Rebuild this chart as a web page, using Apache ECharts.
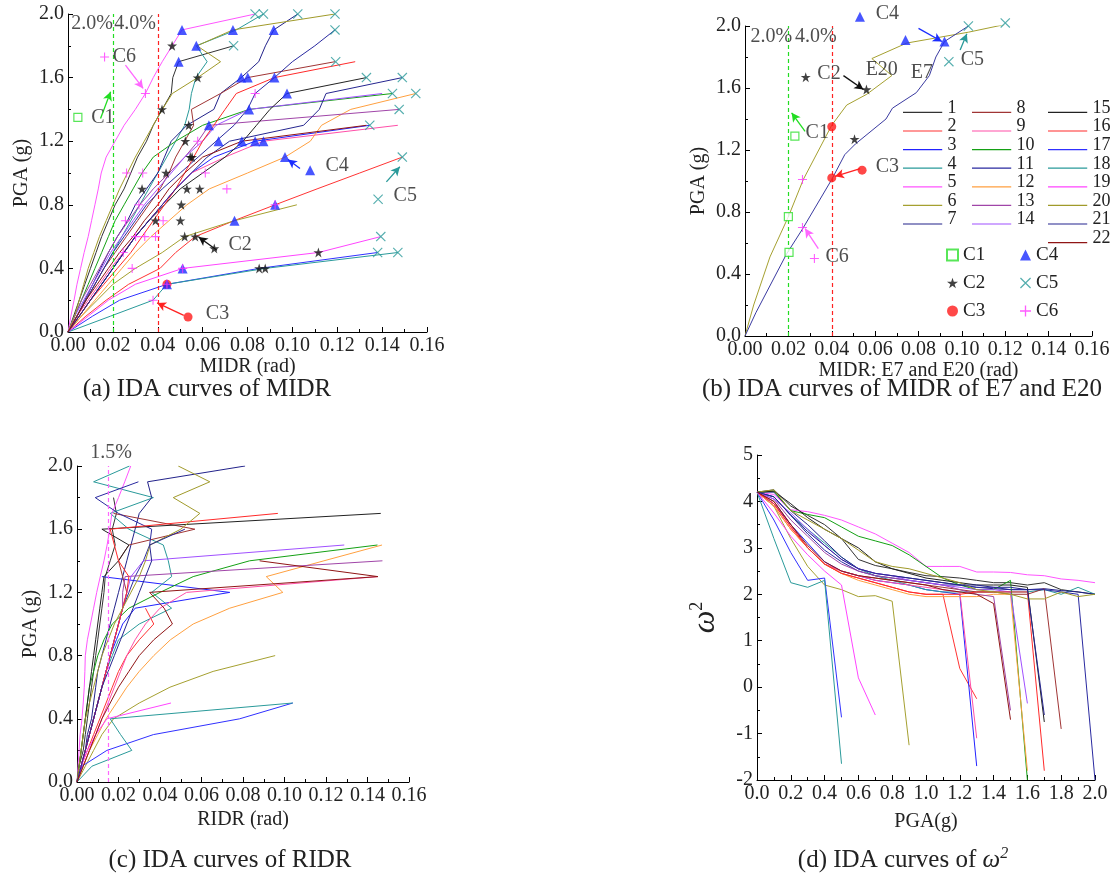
<!DOCTYPE html>
<html>
<head>
<meta charset="utf-8">
<script src="https://cdn.jsdelivr.net/npm/echarts@6/dist/echarts.min.js"></script>
<style>
  html, body { margin: 0; background: #fff; }
  #chart { width: 1120px; height: 881px; }
</style>
</head>
<body>
<div id="chart"></div>
<script>
// ---- data ----
// ground motion numbers 1..22
const names = ['1','2','3','4','5','6','7','8','9','10','11','12','13','14','15','16','17','18','19','20','21','22'];
const colors = ['#333333','#ff3333','#2222ff','#2a9a9a','#ff55ff','#a5a030','#22228a','#a03535','#ff4fa8','#14a014','#2a2aa0',
                '#ffa040','#a045a8','#a050ff','#222222','#ff2a2a','#3030ff','#2a9a9a','#ff44ff','#a09a2a','#25258f','#901515'];

// MIDR (rad) at PGA = 0, 0.1, 0.2 ... g
const midr = [
  [0,.0025,.005,.0075,.01,.0125,.015,.018,.021,.025,.028,.031,.035,.038,.042,.046,.0467,.0493,.0738],
  [0,.008,.017,.027,.041,.048,.0567,.074,.0923,.111,.13,.149],
  [0,.005,.01,.015,.02,.025,.03,.036,.042,.048,.055,.065,.0834,.1345],
  [0,.004,.008,.012,.016,.02,.024,.028,.032,.036,.04,.044,.048,.052,.054,.055,.057,.062,.0572,.075,.0871],
  [0,.0013,.0027,.004,.0056,.0072,.009,.0105,.012,.0135,.0148,.017,.021,.025,.03,.0345,.038,.042,.0464,.0508,.0834],
  [0,.006,.013,.02,.03,.042,.052,.0742,.102],
  [0,.004,.0075,.011,.0145,.018,.022,.0265,.03,.035,.04,.043,.046,.053,.065,.068,.0772,.085,.088,.0917,.1024],
  [0,.004,.008,.012,.016,.021,.026,.031,.036,.041,.045,.048,.052,.056,.055,.068,.08,.119],
  [0,.004,.009,.014,.019,.0246,.03,.036,.042,.048,.055,.07,.0871,.147],
  [0,.003,.006,.009,.012,.015,.018,.021,.025,.029,.033,.038,.048,.06,.0807,.1446],
  [0,.004,.008,.012,.016,.02,.025,.03,.035,.042,.05,.058,.066,.074,.08,.0834,.092,.1,.11,.119],
  [0,.006,.012,.018,.024,.03,.037,.045,.053,.063,.08,.0967,.108,.113,.126,.155],
  [0,.003,.006,.01,.014,.018,.022,.027,.032,.038,.045,.052,.058,.0628,.1476],
  [0,.003,.007,.011,.015,.019,.024,.029,.034,.04,.046,.052,.06,.066,.0807,.14],
  [0,.005,.01,.015,.02,.025,.03,.036,.043,.05,.06,.07,.078,.084,.09,.0976,.133],
  [0,.005,.01,.016,.022,.028,.033,.038,.043,.048,.052,.056,.06,.065,.07,.075,.092,.128],
  [0,.011,.023,.0441,.0852,.138],
  [0,.019,.0379,.0441,.0879,.147],
  [0,.009,.018,.03,.0511,.1116,.1394],
  [0,.003,.005,.007,.009,.0115,.014,.017,.02,.023,.0265,.03,.034,.038,.042,.0465,.0578,.068,.0575,.0735,.119],
  [0,.005,.01,.015,.02,.025,.03,.036,.042,.048,.055,.062,.072,.105,.112,.115,.149],
  [0,.004,.008,.013,.018,.023,.029,.034,.04,.045,.052,.06,.0775,.133]
];

// RIDR (rad) at PGA = 0, 0.1, 0.2 ... g
const ridr = [
  [0,.001,.003,.004,.005,.006,.007,.008,.009,.01,.011,.012,.013,.0136,.016,.0184,.017,.019,.0176],
  [0,.002,.005,.008,.011,.014,.017,.02,.024,.03,.037,.033],
  [0,.002,.004,.006,.008,.01,.012,.014,.016,.019,.022,.028,.0736,.012],
  [0,.002,.004,.006,.008,.01,.012,.014,.017,.02,.03,.0456,.036,.0456,.044,.0416,.025,.016,.0368,.008,.0253],
  [0,.0005,.001,.0015,.0024,.003,.0035,.0038,.004,.005,.0065,.008,.0095,.0112,.013,.0145,.0158,.0168,.02,.023,.0259],
  [0,.004,.008,.012,.0176,.03,.0448,.0656,.0955],
  [0,.002,.004,.005,.007,.008,.009,.01,.012,.014,.016,.018,.02,.022,.024,.026,.028,.03,.036,.034,.081],
  [0,.002,.004,.006,.008,.01,.012,.014,.016,.018,.02,.022,.024,.022,.02,.025,.0568,.0176],
  [0,.003,.006,.009,.012,.015,.018,.021,.024,.028,.033,.04,.0528,.145],
  [0,.001,.002,.003,.004,.005,.006,.008,.01,.013,.017,.025,.04,.056,.0832,.1448],
  [0,.002,.004,.006,.008,.01,.012,.014,.016,.018,.02,.022,.025,.028,.032,.035,.036,.02,.0088,.0296],
  [0,.003,.006,.01,.014,.019,.024,.03,.037,.045,.056,.0736,.0992,.0912,.119,.147],
  [0,.002,.004,.006,.008,.01,.012,.014,.016,.018,.02,.022,.022,.0232,.1472],
  [0,.002,.004,.006,.008,.01,.012,.014,.016,.018,.02,.022,.024,.026,.032,.1288],
  [0,.001,.002,.003,.004,.005,.006,.007,.008,.009,.01,.011,.012,.013,.02,.025,.012,.1464],
  [0,.002,.004,.006,.008,.01,.012,.014,.016,.018,.02,.022,.024,.025,.02,.018,.016,.0968],
  [0,.0024,.0144,.0368,.0784,.104],
  [0,.0072,.0264,.021,.016,.104],
  [0,.002,.005,.009,.0144,.0453],
  [0,.001,.002,.003,.004,.006,.008,.01,.012,.015,.018,.022,.026,.03,.033,.0352,.05,.0592,.0464,.064,.0488],
  [0,.002,.004,.006,.008,.01,.012,.015,.018,.021,.024,.027,.03,.033,.036,.035,.052],
  [0,.003,.006,.009,.012,.016,.02,.025,.03,.037,.046,.042,.035,.145,.088]
];

// omega^2 at PGA = 0, 0.1, 0.2 ... g
const omega2 = [
  [4.2,4.25,3.9,3.7,3.5,3.2,2.75,2.62,2.55,2.47,2.4,2.38,2.35,2.3,2.25,2.25,2.2,2.25,2.1,2.05,2.0],
  [4.2,3.9,3.4,3.0,2.65,2.45,2.35,2.25,2.15,2.05,2.0,2.0,0.4,-0.25],
  [4.2,3.95,3.5,3.1,2.7,2.5,2.4,2.3,2.25,2.2,2.1,2.05,2.0,-1.7],
  [4.2,4.1,3.7,3.4,3.1,2.8,2.55,2.4,2.3,2.2,2.1,2.05,2.05,2.05,2.05,2.05,2.05,2.1,2.0,2.15,2.0],
  [4.2,4.15,3.82,3.78,3.7,3.6,3.45,3.3,3.1,2.9,2.6,2.6,2.6,2.48,2.48,2.47,2.42,2.4,2.33,2.3,2.25],
  [4.2,3.9,3.2,2.6,2.2,2.1,1.95,1.97,1.85,-1.25],
  [4.2,4.2,3.8,3.5,3.15,2.8,2.55,2.45,2.4,2.35,2.3,2.25,2.2,2.15,2.12,2.1,2.1,2.12,2.08,2.05,2.0],
  [4.2,4.0,3.5,3.0,2.65,2.5,2.4,2.35,2.3,2.25,2.2,2.15,2.1,2.05,2.05,2.0,2.0,2.12,-0.9],
  [4.2,3.95,3.45,3.0,2.65,2.5,2.4,2.3,2.25,2.2,2.15,2.1,2.05,-1.1],
  [4.2,4.22,3.8,3.72,3.65,3.45,3.25,3.15,3.05,2.85,2.6,2.35,2.2,2.1,2.1,2.3,-2.0],
  [4.2,4.1,3.7,3.3,2.95,2.7,2.5,2.4,2.35,2.3,2.25,2.2,2.2,2.15,2.15,2.1,2.1,2.1,2.05,2.0,-2.0],
  [4.2,3.9,3.4,3.0,2.65,2.45,2.3,2.2,2.1,2.0,1.95,1.95,1.95,1.95,2.0,2.0,-1.8],
  [4.2,4.05,3.6,3.25,2.9,2.65,2.5,2.4,2.35,2.3,2.25,2.2,2.1,2.0,1.95,-0.5],
  [4.2,4.05,3.75,3.4,3.05,2.75,2.55,2.45,2.4,2.3,2.25,2.2,2.15,2.1,2.1,2.05,-0.35],
  [4.2,4.22,3.95,3.65,3.4,3.2,3.0,2.7,2.55,2.45,2.35,2.3,2.25,2.2,2.2,2.2,2.15,-0.75],
  [4.2,3.95,3.45,3.0,2.65,2.45,2.35,2.25,2.15,2.05,2.0,2.0,2.0,2.05,2.05,2.05,2.05,-1.8],
  [4.2,3.6,2.9,2.3,2.35,-0.65],
  [4.2,3.2,2.25,2.15,2.3,-1.65],
  [4.2,3.75,3.25,2.85,2.5,2.2,0.2,-0.6],
  [4.2,4.25,3.8,3.6,3.4,3.2,2.95,2.7,2.6,2.55,2.45,2.35,2.25,2.1,2.05,2.0,1.9,1.9,2.05,1.95,2.0],
  [4.2,4.1,3.7,3.35,3.05,2.75,2.55,2.45,2.4,2.35,2.3,2.25,2.2,2.2,2.15,2.15,2.1,-0.6],
  [4.2,4.0,3.5,3.05,2.7,2.5,2.4,2.35,2.3,2.25,2.2,2.1,2.05,2.0,1.8,-0.7]
];

// panel (b): E7 and E20
const e7Drift  = [0,.005,.0192,.0265,.04,.046,.051,.065,.068,.079,.085,.088,.092,.103];
const e7Pga    = [0,.15,.53,.69,1.01,1.17,1.24,1.40,1.47,1.57,1.68,1.80,1.90,2.0];
const e20Drift = [0,.004,.0115,.02,.0269,.034,.04,.0469,.0562,.0677,.0585,.0746,.103,.12];
const e20Pga   = [0,.2,.51,.77,1.01,1.2,1.36,1.49,1.56,1.68,1.79,1.89,1.96,2.01];

// damage state points, panel (a)
const c1A = [[.0044,1.35]];
const c2A = [[.0464,1.8],[.0578,1.6],[.0419,1.4],[.0538,1.3],[.0523,1.2],[.0545,1.1],[.0553,1.1],[.0437,1.0],[.033,.9],
             [.053,.9],[.0587,.9],[.0505,.8],[.039,.7],[.0501,.7],[.052,.6],[.0567,.6],[.1116,.5],[.0852,.4],[.0879,.4],[.0652,.525]];
const c3A = [[.0441,.3],[.0535,.094]];
const c4A = [[.0508,1.9],[.0735,1.9],[.0917,1.9],[.0572,1.8],[.0493,1.7],[.0772,1.6],[.0801,1.6],[.092,1.6],[.0976,1.5],
             [.0807,1.4],[.0628,1.3],[.0671,1.2],[.0775,1.2],[.0834,1.2],[.0871,1.2],[.0967,1.1],[.0742,.7],[.0923,.8],
             [.0511,.4],[.0441,.3],[.1079,1.018]];
const c5A = [[.0834,2.0],[.0871,2.0],[.1024,2.0],[.119,2.0],[.0738,1.8],[.119,1.9],[.1193,1.7],[.133,1.6],[.149,1.6],
             [.1446,1.5],[.155,1.5],[.1476,1.4],[.1345,1.3],[.149,1.1],[.1394,.6],[.138,.5],[.147,.5],[.1382,.835]];
const c6A = [[.0345,1.5],[.0834,1.5],[.0578,1.2],[.0612,1.0],[.0261,1.0],[.0333,1.0],[.0708,.9],[.0316,.8],[.0256,.7],
             [.0424,.7],[.0301,.6],[.0342,.6],[.039,.6],[.0246,.5],[.0286,.4],[.0511,.4],[.0923,.8],[.0379,.2],[.0441,.3],[.0163,1.73]];

// damage state points, panel (b)
const c1B = [[.0203,.54],[.02,.77],[.023,1.29]];
const c2B = [[.0505,1.27],[.056,1.59],[.028,1.67]];
const c3B = [[.04,1.02],[.04,1.35],[.054,1.07]];
const c4B = [[.074,1.91],[.092,1.90],[.053,2.06]];
const c5B = [[.103,2.0],[.12,2.02],[.094,1.77]];
const c6B = [[.0265,1.01],[.0265,.70],[.032,.5]];

// axis ranges [min, max, interval]
const driftRange = [0, 0.16, 0.02];
const pgaRange = [0, 2.0, 0.4];
const pgaRangeD = [0, 2.0, 0.2];
const omegaRange = [-2, 5, 1];

// ---- chart ----
const FONT = '"Liberation Serif","Times New Roman",serif';
const chart = echarts.init(document.getElementById('chart'));

function axis(range, digits, extra) {
  return Object.assign({
    type: 'value', min: range[0], max: range[1], interval: range[2],
    axisLine: { show: true, onZero: false, lineStyle: { color: '#000', width: 1 } },
    axisTick: { show: true, inside: true, length: 5, lineStyle: { color: '#000' } },
    minorTick: { show: true, splitNumber: 2, length: 3, lineStyle: { color: '#000' } },
    splitLine: { show: false },
    axisLabel: { color: '#222', fontFamily: FONT, fontSize: 20, margin: 4, showMinLabel: true, showMaxLabel: true,
                 hideOverlap: false, formatter: v => digits == null ? String(v) : v.toFixed(digits) },
    nameLocation: 'middle',
    nameTextStyle: { color: '#222', fontFamily: FONT, fontSize: 20 }
  }, extra);
}

const STAR = 'path://M5,0L6.2,3.6L10,3.6L6.9,5.8L8.1,9.5L5,7.2L1.9,9.5L3.1,5.8L0,3.6L3.8,3.6Z';
const CROSS = 'path://M0,0.8L0.8,0L10,9.2L9.2,10Z M9.2,0L10,0.8L0.8,10L0,9.2Z';
const PLUS = 'path://M4.4,0h1.2v10h-1.2z M0,4.4h10v1.2h-10z';
const markerStyle = {
  C1: { symbol: 'rect', symbolSize: 8, itemStyle: { color: '#fff', borderColor: '#2ee02e', borderWidth: 1.2 } },
  C2: { symbol: STAR, symbolSize: 10, itemStyle: { color: '#111' } },
  C3: { symbol: 'circle', symbolSize: 9, itemStyle: { color: '#ff1a1a' } },
  C4: { symbol: 'triangle', symbolSize: 10, itemStyle: { color: '#1a2cff' } },
  C5: { symbol: CROSS, symbolSize: 10, itemStyle: { color: '#2a9a9a' } },
  C6: { symbol: PLUS, symbolSize: 9, itemStyle: { color: '#ff33ff' } }
};

const series = [];
function lineSeries(name, color, axisIdx, data) {
  return { name, type: 'line', xAxisIndex: axisIdx, yAxisIndex: axisIdx, data, symbol: 'none', showSymbol: false,
           lineStyle: { width: 1, color }, itemStyle: { color }, z: 2 };
}
names.forEach((n, i) => {
  series.push(lineSeries(n, colors[i], 0, midr[i].map((v, k) => [v, k / 10])));
  series.push(lineSeries(n, colors[i], 2, ridr[i].map((v, k) => [v, k / 10])));
  series.push(lineSeries(n, colors[i], 3, omega2[i].map((v, k) => [k / 10, v])));
});
series.push(lineSeries('E20', '#a5a030', 1, e20Drift.map((v, k) => [v, e20Pga[k]])));
series.push(lineSeries('E7', '#3a3aa0', 1, e7Drift.map((v, k) => [v, e7Pga[k]])));

function markerSeries(name, axisIdx, data) {
  return Object.assign({ name, type: 'scatter', xAxisIndex: axisIdx, yAxisIndex: axisIdx, data, z: 5, clip: false },
                       markerStyle[name]);
}
[['C1', c1A], ['C2', c2A], ['C3', c3A], ['C4', c4A], ['C5', c5A], ['C6', c6A]].forEach(m => series.push(markerSeries(m[0], 0, m[1])));
[['C1', c1B], ['C2', c2B], ['C3', c3B], ['C4', c4B], ['C5', c5B], ['C6', c6B]].forEach(m => series.push(markerSeries(m[0], 1, m[1])));

// text notes, dashed limit lines and arrows for one panel
function notes(axisIdx, items, refLines, arrows) {
  series.push({
    type: 'scatter', xAxisIndex: axisIdx, yAxisIndex: axisIdx, symbol: 'circle', symbolSize: 1, clip: false, silent: true, z: 6,
    itemStyle: { color: 'transparent' },
    label: { show: true, position: 'right', distance: 0, formatter: p => p.name, fontFamily: FONT, fontSize: 20, color: '#222' },
    data: items.map(t => ({ name: t[0], value: [t[1], t[2]] })),
    markLine: {
      silent: true, symbol: 'none', precision: 4, label: { show: false }, animation: false,
      data: refLines.map(r => ({ xAxis: r[0], lineStyle: { color: r[1], type: [4, 3], width: 1.2 } }))
    }
  });
  if (arrows.length) {
    series.push({
      type: 'line', xAxisIndex: axisIdx, yAxisIndex: axisIdx, data: [], silent: true, z: 6,
      markLine: {
        silent: true, symbol: ['none', 'arrow'], symbolSize: [7, 9], precision: 4, label: { show: false }, animation: false,
        data: arrows.map(a => [{ coord: [a[0], a[1]], lineStyle: { color: a[4], width: 1.3, type: 'solid' } }, { coord: [a[2], a[3]] }])
      }
    });
  }
}
notes(0,
  [['2.0%', .0012, 1.94], ['4.0%', .0204, 1.94], ['C6', .0197, 1.73], ['C1', .0101, 1.35], ['C4', .1145, 1.045],
   ['C5', .1449, .86], ['C2', .0713, .546], ['C3', .0612, .115]],
  [[0.02, '#22dd22'], [0.04, '#ff2222']],
  [[.0256, 1.679, .0335, 1.532, '#ff66ff'], [.0145, 1.343, .019, 1.511, '#22dd22'], [.1034, 1.028, .098, 1.085, '#1a2cff'],
   [.1419, .944, .1479, 1.039, '#2a9a9a'], [.0664, .514, .0582, .598, '#111'], [.0516, .105, .0397, .183, '#ff2222']]);
notes(1,
  [['2.0%', .0023, 1.93], ['4.0%', .0228, 1.93], ['C4', .06, 2.08], ['C2', .0331, 1.69], ['E20', .0554, 1.72], ['E7', .0762, 1.70],
   ['C1', .0277, 1.31], ['C3', .06, 1.09], ['C5', .0992, 1.78], ['C6', .0369, .51]],
  [[0.02, '#22dd22'], [0.04, '#ff2222']],
  [[.0454, 1.68, .0546, 1.59, '#111'], [.0277, 1.32, .0215, 1.44, '#22dd22'], [.0531, 1.08, .0415, 1.03, '#ff2222'],
   [.08, 1.985, .0908, 1.90, '#1a2cff'], [.0992, 1.845, .1023, 1.95, '#2a9a9a'], [.0338, .564, .0277, .693, '#ff66ff']]);
notes(2, [['1.5%', .0062, 2.085]], [[0.015, '#ff66ff']], []);

const LINE_ICON = 'path://M0,0h0.05v0.05h-0.05z M0,9h40v1.2h-40z';
function lineLegend(list, left) {
  return { data: list, left, top: 99, orient: 'vertical', padding: 0, icon: LINE_ICON, itemWidth: 40, itemHeight: 10,
           itemGap: 0.6, selectedMode: false,
           textStyle: { fontFamily: FONT, fontSize: 18, lineHeight: 16, color: '#222' } };
}
function markLegend(list, left) {
  return { data: list, left, top: 245, orient: 'vertical', padding: 0, itemWidth: 11, itemHeight: 11, itemGap: 8,
           selectedMode: false, textStyle: { fontFamily: FONT, fontSize: 19, lineHeight: 20, color: '#222' } };
}

const capStyle = { font: '25px ' + FONT, fill: '#222', textAlign: 'center', textVerticalAlign: 'middle' };

chart.setOption({
  animation: false,
  backgroundColor: '#fff',
  grid: [
    { left: 68, top: 14, width: 359, height: 318, outerBoundsMode: 'none', containLabel: false },
    { left: 745, top: 26, width: 347, height: 310, outerBoundsMode: 'none', containLabel: false },
    { left: 77, top: 466, width: 332, height: 316, outerBoundsMode: 'none', containLabel: false },
    { left: 757, top: 455, width: 338, height: 325, outerBoundsMode: 'none', containLabel: false }
  ],
  xAxis: [
    axis(driftRange, 2, { gridIndex: 0, name: 'MIDR (rad)', nameGap: 25 }),
    axis(driftRange, 2, { gridIndex: 1, name: 'MIDR: E7 and E20 (rad)', nameGap: 21 }),
    axis(driftRange, 2, { gridIndex: 2, name: 'RIDR (rad)', nameGap: 28 }),
    axis(pgaRangeD, 1, { gridIndex: 3, name: 'PGA(g)', nameGap: 32 })
  ],
  yAxis: [
    axis(pgaRange, 1, { gridIndex: 0, name: 'PGA (g)', nameGap: 36, nameRotate: 90 }),
    axis(pgaRange, 1, { gridIndex: 1, name: 'PGA (g)', nameGap: 36, nameRotate: 90 }),
    axis(pgaRange, 1, { gridIndex: 2, name: 'PGA (g)', nameGap: 36, nameRotate: 90 }),
    axis(omegaRange, null, { gridIndex: 3, name: '{i|ω}{s|2}', nameGap: 33, nameRotate: 90,
      nameTextStyle: { rich: {
        i: { fontFamily: FONT, fontStyle: 'italic', fontSize: 32, color: '#222' },
        s: { fontFamily: FONT, fontSize: 18, color: '#222', padding: [0, 0, 18, 0] } } } })
  ],
  legend: [
    lineLegend(names.slice(0, 7), 903),
    lineLegend(names.slice(7, 14), 972),
    lineLegend(names.slice(14, 22), 1048),
    markLegend(['C1', 'C2', 'C3'], 946),
    markLegend(['C4', 'C5', 'C6'], 1020)
  ],
  graphic: [
    { type: 'text', x: 207, y: 389, style: Object.assign({ text: '(a) IDA curves of MIDR' }, capStyle) },
    { type: 'text', x: 902, y: 389, style: Object.assign({ text: '(b) IDA curves of MIDR of E7 and E20' }, capStyle) },
    { type: 'text', x: 230, y: 860, style: Object.assign({ text: '(c) IDA curves of RIDR' }, capStyle) },
    { type: 'text', x: 903, y: 860, style: Object.assign({ text: '(d) IDA curves of {i|ω}{s|2}',
        rich: { i: { font: 'italic 25px ' + FONT, fill: '#222' },
                s: { font: 'italic 16px ' + FONT, fill: '#222', padding: [0, 0, 12, 0] } } }, capStyle) }
  ],
  series
});
</script>
</body>
</html>
